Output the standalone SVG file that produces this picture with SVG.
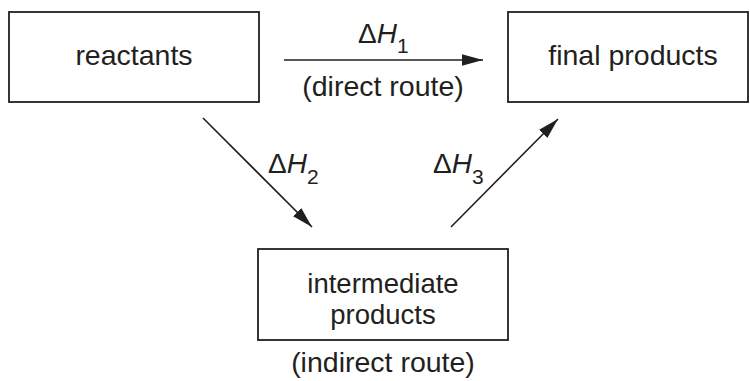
<svg xmlns="http://www.w3.org/2000/svg" width="750" height="381" viewBox="0 0 750 381">
<defs>
<style>
.box{fill:#fff;stroke:#231f20;stroke-width:1.8}
.lbl{font-family:"Liberation Sans",Arial,Helvetica,sans-serif;font-size:28.5px;fill:#231f20;text-anchor:middle}
.two{font-size:27.5px}
.dh{font-family:"Liberation Sans",Arial,Helvetica,sans-serif;font-size:28px;fill:#231f20}
.sub{font-size:21px;font-style:normal}
.it{font-style:italic}
.conn{stroke:#231f20;stroke-width:1.6;fill:none;marker-end:url(#ah)}
</style>
<marker id="ah" markerUnits="userSpaceOnUse" markerWidth="23" markerHeight="12" refX="21" refY="5.75" orient="auto">
<path d="M0,0 L21,5.75 L0,11.5 z" fill="#231f20"/>
</marker>
</defs>
<rect width="750" height="381" fill="#fff"/>
<g id="connectors">
<line class="conn" x1="284" y1="60" x2="483" y2="60"/>
<line class="conn" x1="203" y1="118" x2="312" y2="227"/>
<line class="conn" x1="451" y1="227" x2="558" y2="119"/>
</g>
<g id="reactants">
<rect class="box" x="9" y="12" width="250" height="90"/>
<text class="lbl" x="134" y="65">reactants</text>
</g>
<g id="final-products">
<rect class="box" x="508" y="12" width="240" height="90"/>
<text class="lbl" x="633" y="65">final products</text>
</g>
<g id="intermediate-products">
<rect class="box" x="258" y="249" width="250" height="91"/>
<text class="lbl two" x="383" y="293">intermediate</text>
<text class="lbl two" x="383" y="324">products</text>
</g>
<g id="labels">
<text class="dh" x="358" y="43">Δ<tspan class="it">H</tspan><tspan class="sub" dy="10">1</tspan></text>
<text class="lbl" x="383" y="96">(direct route)</text>
<text class="dh" x="268" y="173">Δ<tspan class="it">H</tspan><tspan class="sub" dy="11">2</tspan></text>
<text class="dh" x="433" y="173">Δ<tspan class="it">H</tspan><tspan class="sub" dy="11">3</tspan></text>
<text class="lbl" x="383" y="372">(indirect route)</text>
</g>
</svg>
